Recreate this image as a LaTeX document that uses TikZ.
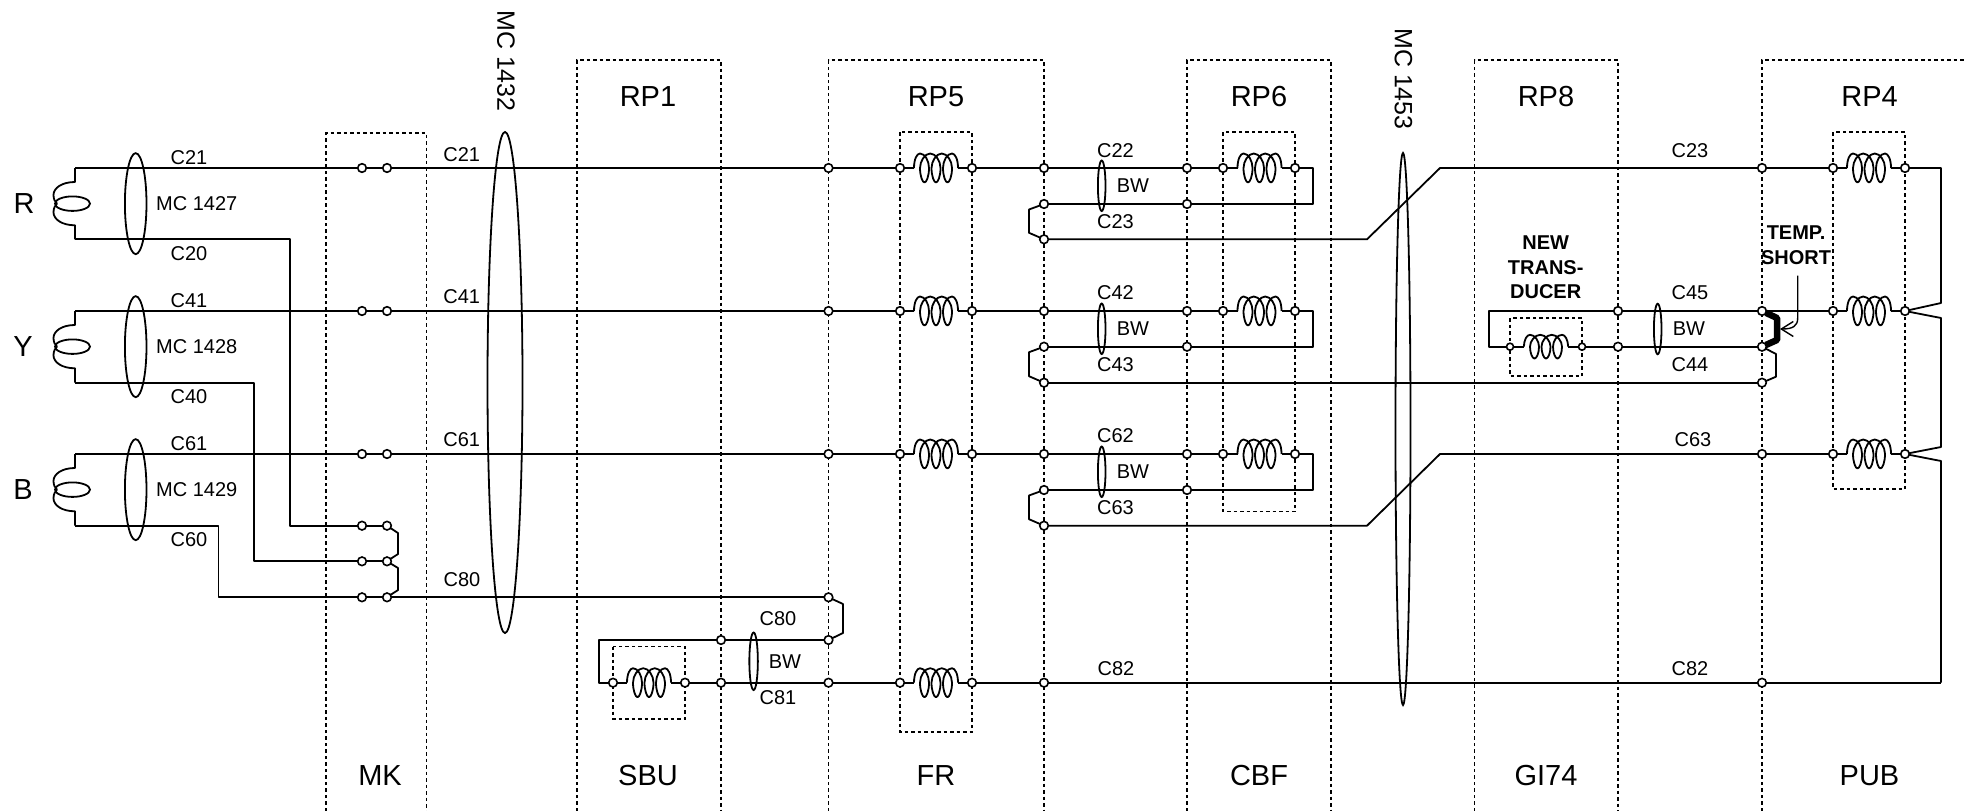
\documentclass[tikz,border=0pt]{standalone}
\usepackage{fontspec}
\setmainfont{Liberation Sans}
\usetikzlibrary{shapes.geometric,arrows.meta}
\tikzset{
  wire/.style={line width=1.8pt,line join=round},
  dash box/.style={line width=1.5pt,dash pattern=on 3.5pt off 3pt},
  term/.style={circle,draw,fill=white,line width=1.6pt,minimum size=8.6pt,inner sep=0pt,outer sep=0pt},
  smallterm/.style={term,minimum size=7pt},
  ring/.style={ellipse,draw,line width=1.8pt,inner sep=0pt,outer sep=0pt},
  lab/.style={inner sep=0pt,font=\fontsize{20}{24}\selectfont},
  head/.style={inner sep=0pt,font=\fontsize{29}{34}\selectfont},
  bigname/.style={inner sep=0pt,font=\fontsize{25}{28}\selectfont,rotate=-90},
  notel/.style={inner sep=0pt,align=center,font=\bfseries\fontsize{20}{24.7}\selectfont},
  coilpic/.pic={
    \coordinate (-l) at (-22,0);
    \coordinate (-r) at (22,0);
    \draw[wire] (-22,0) .. controls (-22,-9) and (-19,-14.5) .. (-16,-14.5)
      .. controls (-11,-14.5) and (-7,-7) .. (-7,0)
      .. controls (-7,8) and (-9.5,14.5) .. (-11.5,14.5)
      .. controls (-13.5,14.5) and (-16,8) .. (-16,0)
      .. controls (-16,-7) and (-11,-14.5) .. (-5.75,-14.5)
      .. controls (-0.5,-14.5) and (4.5,-7) .. (4.5,0)
      .. controls (4.5,8) and (2,14.5) .. (0,14.5)
      .. controls (-2,14.5) and (-4.5,8) .. (-4.5,0)
      .. controls (-4.5,-7) and (0.5,-14.5) .. (5.75,-14.5)
      .. controls (11,-14.5) and (16,-7) .. (16,0)
      .. controls (16,8) and (13.5,14.5) .. (11.5,14.5)
      .. controls (9.5,14.5) and (7,8) .. (7,0)
      .. controls (7,-7) and (11,-14.5) .. (16,-14.5)
      .. controls (19,-14.5) and (22,-9) .. (22,0);
  }
}
\begin{document}
\begin{tikzpicture}[x=1pt,y=-1pt]
\useasboundingbox (0,0) rectangle (1966,811);
% dashed enclosures
\draw[dash box] (326,811) -- (326,133) -- (426.5,133) -- (426.5,811);
\draw[dash box] (577,811) -- (577,60) -- (721,60) -- (721,811);
\draw[dash box] (828.5,811) -- (828.5,60) -- (1044,60) -- (1044,811);
\draw[dash box] (1187,811) -- (1187,60) -- (1331,60) -- (1331,811);
\draw[dash box] (1474.5,811) -- (1474.5,60) -- (1618,60) -- (1618,811);
\draw[dash box] (1762,811) -- (1762,60) -- (1966,60);
\draw[dash box] (900,132) rectangle (972,732);
\draw[dash box] (1223,132) rectangle (1295,511.5);
\draw[dash box] (1833,132) rectangle (1905,489);
\draw[dash box] (1510,318) rectangle (1582,376);
\draw[dash box] (613,646.7) rectangle (685,719);
% three signal rows
\foreach \r/\ya/\yb/\yc in {a/168/204/239.3, b/311/346.7/382.7, c/454/490/525.7}{
  \coordinate (\r-0) at (75,\ya);
  \coordinate (\r-1) at (75,\yc);
  \node[ring,minimum width=21.6pt,minimum height=101pt] (\r-ring) at (135.7,{\ya+35.65}) {};
  \node[ring,minimum width=35pt,minimum height=14.5pt] (\r-loop) at (72.5,{\ya+35.65}) {};
  \draw[wire] (\r-0) -- (75,{\ya+14})
    .. controls (62,{\ya+14}) and (53.5,{\ya+20}) .. (53.5,{\ya+27})
    .. controls (53.5,{\ya+31}) and (55,{\ya+34}) .. (57,{\ya+35.65})
    .. controls (55,{\ya+37.3}) and (53.5,{\ya+40.3}) .. (53.5,{\ya+44.3})
    .. controls (53.5,{\ya+51.3}) and (62,{\ya+57.3}) .. (75,{\ya+57.3}) -- (\r-1);
  \node[term] (\r-mk1) at (362,\ya) {};
  \node[term] (\r-mk2) at (387,\ya) {};
  \node[term] (\r-p) at (828.5,\ya) {};
  \node[term] (\r-i) at (900,\ya) {};
  \pic (\r-c1) at (936,\ya) {coilpic};
  \node[term] (\r-j) at (972,\ya) {};
  \node[term] (\r-q) at (1044,\ya) {};
  \node[term] (\r-s) at (1187,\ya) {};
  \node[term] (\r-t) at (1223,\ya) {};
  \pic (\r-c2) at (1259.5,\ya) {coilpic};
  \node[term] (\r-u) at (1295,\ya) {};
  \coordinate (\r-k1) at (1313,\ya);
  \coordinate (\r-k2) at (1313,\yb);
  \node[term] (\r-v) at (1187,\yb) {};
  \node[term] (\r-w) at (1044,\yb) {};
  \node[term] (\r-x) at (1044,\yc) {};
  \node[ring,minimum width=7.6pt,minimum height=50.5pt] (\r-bw) at (1101.7,{\ya+17.8}) {};
  \node[term] (\r-e) at (1762,\ya) {};
  \node[term] (\r-g) at (1833,\ya) {};
  \pic (\r-c3) at (1869,\ya) {coilpic};
  \node[term] (\r-h) at (1905,\ya) {};
  \coordinate (\r-l1) at (1029,{\yb+5.5});
  \coordinate (\r-l2) at (1029,{\yc-6.5});
  \draw[wire] (\r-0) -- (\r-mk1);
  \draw[wire] (\r-mk1) -- (\r-mk2);
  \draw[wire] (\r-mk2) -- (\r-p);
  \draw[wire] (\r-p) -- (\r-i);
  \draw[wire] (\r-i) -- (\r-c1-l);
  \draw[wire] (\r-c1-r) -- (\r-j);
  \draw[wire] (\r-j) -- (\r-q);
  \draw[wire] (\r-q) -- (\r-s);
  \draw[wire] (\r-s) -- (\r-t);
  \draw[wire] (\r-t) -- (\r-c2-l);
  \draw[wire] (\r-c2-r) -- (\r-u);
  \draw[wire] (\r-u) -- (\r-k1) -- (\r-k2) -- (\r-v);
  \draw[wire] (\r-v) -- (\r-w);
  \draw[wire] (\r-w) -- (\r-l1) -- (\r-l2) -- (\r-x);
  \draw[wire] (\r-e) -- (\r-g);
  \draw[wire] (\r-g) -- (\r-c3-l);
  \draw[wire] (\r-c3-r) -- (\r-h);
}
% crossings over MC 1453
\coordinate (a-d1) at (1367,239.3);
\coordinate (a-d2) at (1440,168);
\coordinate (c-d1) at (1367,525.7);
\coordinate (c-d2) at (1440,454);
\draw[wire] (a-x) -- (a-d1) -- (a-d2) -- (a-e);
\draw[wire] (c-x) -- (c-d1) -- (c-d2) -- (c-e);
% new transducer
\node[term] (n-3) at (1762,382.7) {};
\node[term] (n-4) at (1762,346.7) {};
\node[term] (n-5) at (1618,346.7) {};
\node[smallterm] (n-6) at (1582,346.7) {};
\pic[yscale=.82] (n-c) at (1546,346.7) {coilpic};
\node[smallterm] (n-7) at (1510,346.7) {};
\coordinate (n-k1) at (1489,346.7);
\coordinate (n-k2) at (1489,311);
\node[term] (n-8) at (1618,311) {};
\coordinate (n-r1) at (1776,354);
\coordinate (n-r2) at (1776,376.7);
\node[ring,minimum width=7.6pt,minimum height=50.5pt] (n-bw) at (1657.7,329) {};
\draw[wire] (b-x) -- (n-3);
\draw[wire] (n-4) -- (n-r1) -- (n-r2) -- (n-3);
\draw[wire] (n-4) -- (n-5);
\draw[wire] (n-5) -- (n-6);
\draw[wire] (n-6) -- (n-c-r);
\draw[wire] (n-c-l) -- (n-7);
\draw[wire] (n-7) -- (n-k1) -- (n-k2) -- (n-8);
\draw[wire] (n-8) -- (b-e);
% temporary short
\coordinate (t-1) at (1777,318);
\coordinate (t-2) at (1777,340);
\draw[line width=6.5pt,line join=round] (b-e) -- (t-1) -- (t-2) -- (n-4);
\coordinate (t-a) at (1797.7,275.7);
\coordinate (t-b) at (1797.7,318);
\coordinate (t-c) at (1780,329);
\draw[line width=1.4pt,-{Straight Barb[length=12pt,width=15pt]}] (t-a) -- (t-b) .. controls (1797.7,326) and (1793,329) .. (t-c);
% right-hand return
\coordinate (q-1) at (1941,168);
\coordinate (q-2) at (1941,303);
\coordinate (q-3) at (1941,318);
\coordinate (q-4) at (1941,447);
\coordinate (q-5) at (1941,461);
\coordinate (q-6) at (1941,682.7);
\draw[wire] (a-h) -- (q-1) -- (q-2) -- (b-h);
\draw[wire] (b-h) -- (q-3) -- (q-4) -- (c-h);
\draw[wire] (c-h) -- (q-5) -- (q-6);
% return pair C20 C40 C60 through MK
\node[term] (m-1) at (362,525.7) {};
\node[term] (m-2) at (387,525.7) {};
\node[term] (m-3) at (362,561.3) {};
\node[term] (m-4) at (387,561.3) {};
\node[term] (m-5) at (362,597.3) {};
\node[term] (m-6) at (387,597.3) {};
\coordinate (k-a1) at (290,239.3);
\coordinate (k-a2) at (290,525.7);
\coordinate (k-b1) at (254.3,382.7);
\coordinate (k-b2) at (254.3,561.3);
\coordinate (k-c1) at (218.5,525.7);
\coordinate (k-c2) at (218.5,597.3);
\draw[wire] (a-1) -- (k-a1) -- (k-a2) -- (m-1);
\draw[wire] (b-1) -- (k-b1) -- (k-b2) -- (m-3);
\draw[wire] (c-1) -- (k-c1) -- (k-c2) -- (m-5);
\draw[wire] (m-1) -- (m-2);
\draw[wire] (m-3) -- (m-4);
\draw[wire] (m-5) -- (m-6);
\coordinate (k-d1) at (398,533);
\coordinate (k-d2) at (398,554);
\coordinate (k-d3) at (398,568);
\coordinate (k-d4) at (398,590);
\draw[wire] (m-2) -- (k-d1) -- (k-d2) -- (m-4);
\draw[wire] (m-4) -- (k-d3) -- (k-d4) -- (m-6);
% C80 / C81 / C82 loop
\node[term] (z-1) at (828.5,597.3) {};
\node[term] (z-2) at (828.5,640) {};
\node[term] (z-3) at (721,640) {};
\coordinate (z-k1) at (598.7,640);
\coordinate (z-k2) at (598.7,682.7);
\coordinate (z-l1) at (843,604);
\coordinate (z-l2) at (843,633);
\node[term] (z-4) at (613,682.7) {};
\pic (z-c) at (649,682.7) {coilpic};
\node[term] (z-5) at (685,682.7) {};
\node[term] (z-6) at (721,682.7) {};
\node[term] (z-7) at (828.5,682.7) {};
\node[term] (z-8) at (900,682.7) {};
\pic (z-d) at (936,682.7) {coilpic};
\node[term] (z-9) at (972,682.7) {};
\node[term] (z-10) at (1044,682.7) {};
\node[term] (z-11) at (1762,682.7) {};
\node[ring,minimum width=8.5pt,minimum height=57.5pt] (z-bw) at (753.6,661.3) {};
\draw[wire] (m-6) -- (z-1);
\draw[wire] (z-1) -- (z-l1) -- (z-l2) -- (z-2);
\draw[wire] (z-2) -- (z-3);
\draw[wire] (z-3) -- (z-k1) -- (z-k2) -- (z-4);
\draw[wire] (z-4) -- (z-c-l);
\draw[wire] (z-c-r) -- (z-5);
\draw[wire] (z-5) -- (z-6);
\draw[wire] (z-6) -- (z-7);
\draw[wire] (z-7) -- (z-8);
\draw[wire] (z-8) -- (z-d-l);
\draw[wire] (z-d-r) -- (z-9);
\draw[wire] (z-9) -- (z-10);
\draw[wire] (z-10) -- (z-11);
\draw[wire] (z-11) -- (q-6);
% large cable rings
\node[ring,minimum width=35pt,minimum height=501pt] (mc1432) at (505,382.5) {};
\node[ring,minimum width=15pt,minimum height=552pt] (mc1453) at (1403,429) {};
\node[bigname] (t-mc1432) at (506,61) {MC 1432};
\node[bigname] (t-mc1453) at (1403.5,79) {MC 1453};
% headings
\node[head] (h1) at (648,97) {RP1};
\node[head] (h2) at (936,97) {RP5};
\node[head] (h3) at (1259,97) {RP6};
\node[head] (h4) at (1546,97) {RP8};
\node[head] (h5) at (1869.5,97) {RP4};
\node[head] (h6) at (380,775.5) {MK};
\node[head] (h7) at (648,775.5) {SBU};
\node[head] (h8) at (936,775.5) {FR};
\node[head] (h9) at (1259,775.5) {CBF};
\node[head] (h10) at (1546,775.5) {GI74};
\node[head] (h11) at (1869.5,775.5) {PUB};
\node[head] (h12) at (24,204) {R};
\node[head] (h13) at (23,347) {Y};
\node[head] (h14) at (23,490) {B};
% labels
\node[lab] (l1) at (189,157.7) {C21};
\node[lab] (l2) at (189,253.7) {C20};
\node[lab] (l3) at (189,301) {C41};
\node[lab] (l4) at (189,397) {C40};
\node[lab] (l5) at (189,444) {C61};
\node[lab] (l6) at (189,540) {C60};
\node[lab] (l7) at (196.7,203.5) {MC 1427};
\node[lab] (l8) at (196.7,346.5) {MC 1428};
\node[lab] (l9) at (196.7,489.5) {MC 1429};
\node[lab] (l10) at (461.7,154.3) {C21};
\node[lab] (l11) at (461.7,297) {C41};
\node[lab] (l12) at (461.7,440) {C61};
\node[lab] (l13) at (462,580) {C80};
\node[lab] (l14) at (778,618.7) {C80};
\node[lab] (l15) at (785,661.7) {BW};
\node[lab] (l16) at (778,697.7) {C81};
\node[lab] (l17) at (1115.5,150.3) {C22};
\node[lab] (l18) at (1133,185.5) {BW};
\node[lab] (l19) at (1115.5,221.7) {C23};
\node[lab] (l20) at (1115.5,293) {C42};
\node[lab] (l21) at (1133,328.5) {BW};
\node[lab] (l22) at (1115.5,365) {C43};
\node[lab] (l23) at (1115.5,436) {C62};
\node[lab] (l24) at (1133,471.5) {BW};
\node[lab] (l25) at (1115.5,508) {C63};
\node[lab] (l26) at (1116,669) {C82};
\node[lab] (l27) at (1690,151) {C23};
\node[lab] (l28) at (1690,293) {C45};
\node[lab] (l29) at (1689,328.5) {BW};
\node[lab] (l30) at (1690,365) {C44};
\node[lab] (l31) at (1693,440) {C63};
\node[lab] (l32) at (1690,669) {C82};
\node[notel] (l33) at (1545.7,267.5) {NEW\\TRANS-\\DUCER};
\node[notel] (l34) at (1796,245.5) {TEMP.\\SHORT};
\end{tikzpicture}
\end{document}
